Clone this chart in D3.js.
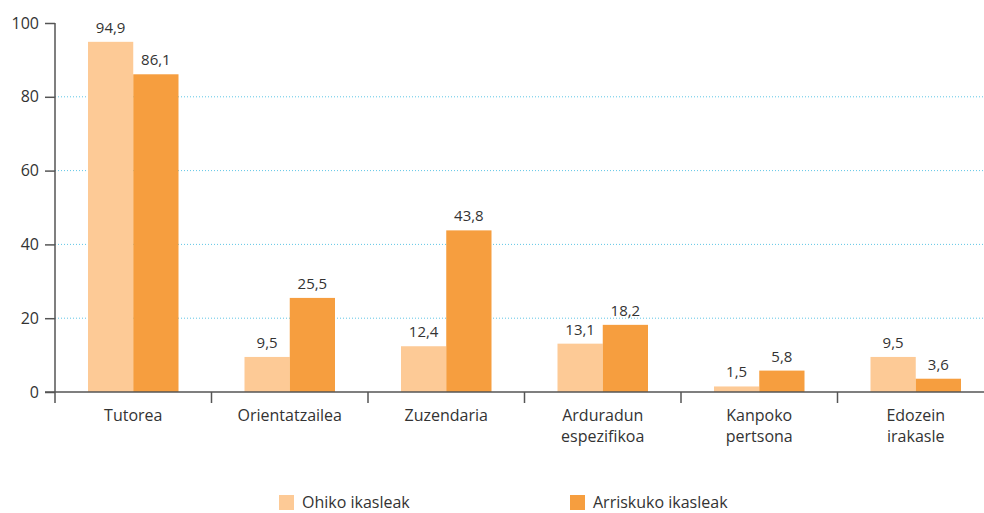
<!DOCTYPE html>
<html>
<head>
<meta charset="utf-8">
<script src="https://cdn.jsdelivr.net/npm/d3@7"></script>
<style>
  body { margin: 0; background: #fff; }
  svg { display: block; font-family: 'Open Sans', sans-serif; }
  .axis path, .axis line { stroke: #555; stroke-width: 1.5; }
  .axis text { fill: #333; font-size: 16px; font-family: 'Open Sans', sans-serif; }
</style>
</head>
<body>
<div id="chart"></div>
<script>
const categories = [
  ['Tutorea'],
  ['Orientatzailea'],
  ['Zuzendaria'],
  ['Arduradun', 'espezifikoa'],
  ['Kanpoko', 'pertsona'],
  ['Edozein', 'irakasle']
]
const seriesNames = ['Ohiko ikasleak', 'Arriskuko ikasleak']
const ohiko = [94.9, 9.5, 12.4, 13.1, 1.5, 9.5]
const arriskuko = [86.1, 25.5, 43.8, 18.2, 5.8, 3.6]
const yTicks = [0, 20, 40, 60, 80, 100]
const colors = ['#fdca96', '#f69e3f']

const W = 984, H = 513
const margin = { top: 23, left: 55, right: -10, bottom: 121 }
const width = W - margin.left - margin.right
const height = H - margin.top - margin.bottom

const svg = d3.select('#chart')
  .append('svg')
  .attr('width', W)
  .attr('height', H)

const g = svg.append('g')
  .attr('transform', `translate(${margin.left},${margin.top})`)

const keys = categories.map(c => c.join(' '))
const x = d3.scaleBand().domain(keys).range([0, width]).padding(0)
const x1 = d3.scaleBand().domain([0, 1]).range([33, x.bandwidth() - 33]).padding(0)
const y = d3.scaleLinear().domain([0, 100]).range([height, 0])

// dotted grid lines
g.append('g')
  .selectAll('line')
  .data(yTicks.filter(t => t > 0 && t < 100))
  .enter()
  .append('line')
  .attr('x1', 0)
  .attr('x2', width)
  .attr('y1', d => y(d))
  .attr('y2', d => y(d))
  .attr('stroke', '#5fc6e6')
  .attr('stroke-width', 1)
  .attr('stroke-dasharray', '1,2')

const rows = keys.map((k, i) => ({ key: k, values: [ohiko[i], arriskuko[i]] }))

const groups = g.append('g')
  .selectAll('g')
  .data(rows)
  .enter()
  .append('g')
  .attr('transform', d => `translate(${x(d.key)},0)`)

groups.selectAll('rect')
  .data(d => d.values)
  .enter()
  .append('rect')
  .attr('x', (d, i) => x1(i))
  .attr('width', x1.bandwidth())
  .attr('y', d => y(d))
  .attr('height', d => height - y(d))
  .attr('fill', (d, i) => colors[i])

groups.selectAll('text')
  .data(d => d.values)
  .enter()
  .append('text')
  .attr('x', (d, i) => x1(i) + x1.bandwidth() / 2)
  .attr('y', d => y(d) - 9)
  .attr('text-anchor', 'middle')
  .attr('fill', '#333')
  .attr('font-size', '15px')
  .text(d => d.toFixed(1).replace('.', ','))

// axes
const yAxis = d3.axisLeft(y).tickValues(yTicks).tickSize(10).tickPadding(6)
g.append('g')
  .attr('class', 'axis y-axis')
  .call(yAxis)
  .call(s => s.select('.domain').attr('d', `M0,0V${height}`))

const xAxis = g.append('g')
  .attr('class', 'axis x-axis')
  .attr('transform', `translate(0,${height})`)

xAxis.append('line')
  .attr('x1', -10)
  .attr('x2', width)
  .attr('stroke', '#555')
  .attr('stroke-width', 1.5)

xAxis.selectAll('.tick')
  .data(keys.concat(['end']))
  .enter()
  .append('line')
  .attr('x1', (d, i) => i * x.bandwidth())
  .attr('x2', (d, i) => i * x.bandwidth())
  .attr('y1', 0)
  .attr('y2', 11)

const labels = xAxis.selectAll('.lbl')
  .data(categories)
  .enter()
  .append('text')
  .attr('x', (d, i) => x(keys[i]) + x.bandwidth() / 2)
  .attr('y', 29)
  .attr('text-anchor', 'middle')

labels.selectAll('tspan')
  .data(d => d)
  .enter()
  .append('tspan')
  .attr('x', function() { return this.parentNode.getAttribute('x') })
  .attr('dy', (d, i) => i === 0 ? 0 : 21)
  .text(d => d)

// legend
const legendX = [279, 570]
const legend = svg.append('g')
  .selectAll('g')
  .data(seriesNames)
  .enter()
  .append('g')
  .attr('transform', (d, i) => `translate(${legendX[i]},495)`)

legend.append('rect')
  .attr('width', 15)
  .attr('height', 15)
  .attr('fill', (d, i) => colors[i])

legend.append('text')
  .attr('x', 23)
  .attr('y', 13)
  .attr('fill', '#333')
  .attr('font-size', '16px')
  .text(d => d)
</script>
</body>
</html>
